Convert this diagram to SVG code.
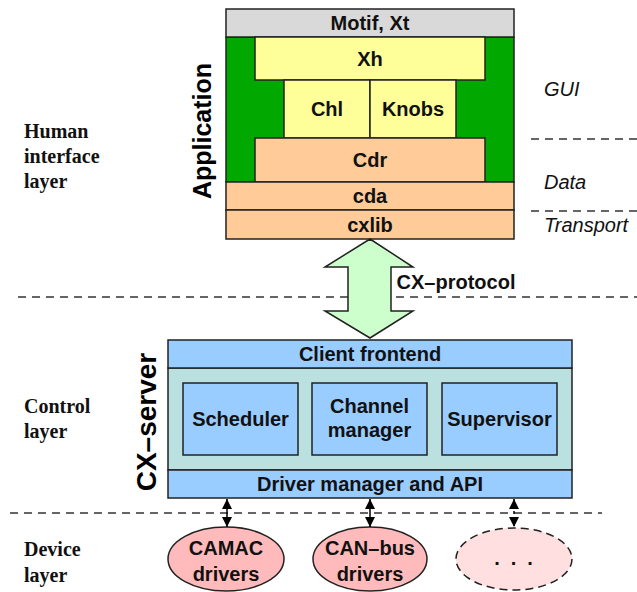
<svg xmlns="http://www.w3.org/2000/svg" width="637" height="592" viewBox="0 0 637 592">
<style>
.b{stroke:#222;stroke-width:1.5}
.t{font-family:"Liberation Sans",Arial,sans-serif;font-weight:bold;font-size:20px;fill:#111;text-anchor:middle}
.it{font-family:"Liberation Sans",Arial,sans-serif;font-style:italic;font-size:20px;fill:#111}
.lt{font-family:"Liberation Serif","Times New Roman",serif;font-weight:bold;font-size:20px;fill:#111}
.rot{font-family:"Liberation Sans",Arial,sans-serif;font-weight:bold;fill:#000;text-anchor:middle}
.dash{stroke:#333;stroke-width:1.3;stroke-dasharray:8 6;fill:none}
</style>
<defs>
<marker id="ah" viewBox="0 0 10 10" refX="10" refY="5" markerWidth="10" markerHeight="10" markerUnits="userSpaceOnUse" orient="auto-start-reverse">
<path d="M0,0 L10,5 L0,10 z" fill="#000"/>
</marker>
</defs>
<rect width="637" height="592" fill="#fff"/>

<g id="layer-lines">
<line class="dash" x1="18" y1="297" x2="637" y2="297"/>
<line class="dash" x1="10" y1="513" x2="602" y2="513"/>
<line class="dash" x1="531" y1="139" x2="637" y2="139"/>
<line class="dash" x1="531" y1="211" x2="637" y2="211"/>
</g>

<g id="labels">
<text class="lt" x="24" y="138">Human</text>
<text class="lt" x="24" y="163">interface</text>
<text class="lt" x="24" y="188">layer</text>
<text class="lt" x="24" y="413">Control</text>
<text class="lt" x="24" y="438">layer</text>
<text class="lt" x="24" y="556">Device</text>
<text class="lt" x="24" y="582">layer</text>
<text class="it" x="544" y="96">GUI</text>
<text class="it" x="544" y="189">Data</text>
<text class="it" x="544" y="232">Transport</text>
</g>

<g id="application">
<rect class="b" x="226" y="37" width="288" height="145" fill="#00a800"/>
<text class="rot" font-size="25" transform="translate(211,131) rotate(-90)">Application</text>
</g>
<g id="motif">
<rect class="b" x="226" y="9" width="288" height="28" fill="#d9d9d9"/>
<text class="t" x="370" y="30">Motif, Xt</text>
</g>
<g id="xh">
<rect class="b" x="255" y="37" width="230" height="43" fill="#ffff99"/>
<text class="t" x="370" y="66">Xh</text>
</g>
<g id="chl">
<rect class="b" x="284" y="80" width="86" height="58" fill="#ffff99"/>
<text class="t" x="327" y="116">Chl</text>
</g>
<g id="knobs">
<rect class="b" x="370" y="80" width="86" height="58" fill="#ffff99"/>
<text class="t" x="413" y="116">Knobs</text>
</g>
<g id="cdr">
<rect class="b" x="255" y="138" width="230" height="44" fill="#ffcc99"/>
<text class="t" x="370" y="167">Cdr</text>
</g>
<g id="cda">
<rect class="b" x="226" y="182" width="288" height="28" fill="#ffcc99"/>
<text class="t" x="370" y="203">cda</text>
</g>
<g id="cxlib">
<rect class="b" x="226" y="210" width="288" height="29" fill="#ffcc99"/>
<text class="t" x="370" y="232">cxlib</text>
</g>

<g id="cx-protocol">
<polygon class="b" points="370,239 413,267 391,267 391,311 413,311 370,338 325,311 348,311 348,267 325,267" fill="#ccffcc" stroke-linejoin="miter"/>
<text class="t" x="456" y="289">CX–protocol</text>
</g>

<g id="cx-server">
<rect class="b" x="168" y="368" width="404" height="102" fill="#bbe0e0"/>
<text class="rot" font-size="28" transform="translate(156,422) rotate(-90)">CX–server</text>
</g>
<g id="client-frontend">
<rect class="b" x="168" y="340" width="404" height="28" fill="#99ccff"/>
<text class="t" x="370" y="361">Client frontend</text>
</g>
<g id="scheduler">
<rect class="b" x="183" y="383" width="115" height="72" fill="#99ccff"/>
<text class="t" x="240.5" y="426">Scheduler</text>
</g>
<g id="channel-manager">
<rect class="b" x="312" y="383" width="115" height="72" fill="#99ccff"/>
<text class="t" x="369.5" y="413">Channel</text>
<text class="t" x="369.5" y="437">manager</text>
</g>
<g id="supervisor">
<rect class="b" x="442" y="383" width="115" height="72" fill="#99ccff"/>
<text class="t" x="499.5" y="426">Supervisor</text>
</g>
<g id="driver-manager">
<rect class="b" x="168" y="470" width="404" height="28" fill="#99ccff"/>
<text class="t" x="370" y="491">Driver manager and API</text>
</g>

<g id="camac">
<ellipse class="b" cx="226" cy="559" rx="58" ry="32" fill="#ffbbbb"/>
<text class="t" x="226" y="555">CAMAC</text>
<text class="t" x="226" y="581">drivers</text>
</g>
<g id="canbus">
<ellipse class="b" cx="370" cy="559" rx="57" ry="32" fill="#ffbbbb"/>
<text class="t" x="370" y="555">CAN–bus</text>
<text class="t" x="370" y="581">drivers</text>
</g>
<g id="other-drivers">
<ellipse cx="514" cy="559" rx="58" ry="31" fill="#ffdfdf" stroke="#222" stroke-width="1.5" stroke-dasharray="8 5"/>
<text class="t" x="497 513.5 530" y="565">...</text>
</g>

<g id="connectors" stroke="#000" stroke-width="1.5">
<line x1="227" y1="499" x2="227" y2="527" marker-start="url(#ah)" marker-end="url(#ah)"/>
<line x1="370" y1="499" x2="370" y2="527" marker-start="url(#ah)" marker-end="url(#ah)"/>
<line x1="514" y1="499" x2="514" y2="527" stroke-dasharray="3 3" marker-start="url(#ah)" marker-end="url(#ah)"/>
</g>
</svg>
